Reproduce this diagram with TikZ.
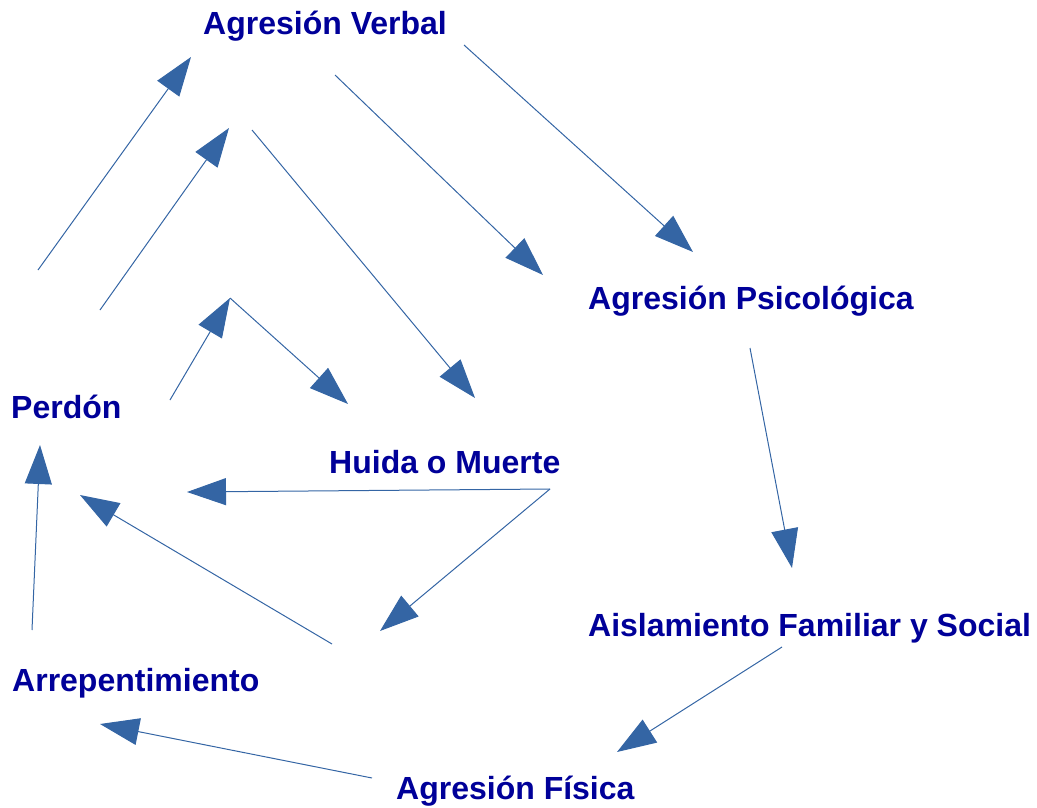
\documentclass[tikz,border=0pt]{standalone}
\usepackage{fontspec}
\setmainfont{Liberation Sans}
\usetikzlibrary{arrows.meta}
\definecolor{txtblue}{HTML}{000099}
\definecolor{arrblue}{HTML}{3465A4}
\begin{document}
\begin{tikzpicture}[x=1pt,y=-1pt,
  lbl/.style={anchor=base west,inner sep=0pt,text=txtblue,font=\fontsize{32}{38}\selectfont\bfseries},
  conn/.style={draw=arrblue,line width=1pt,-{Triangle[length=39pt,width=27pt,fill=arrblue]}},
  plain/.style={draw=arrblue,line width=1pt}]
\useasboundingbox (0,0) rectangle (1037,808);
% labels
\node[lbl] (verbal) at (203,35) {Agresión Verbal};
\node[lbl] (psico) at (588,309) {Agresión Psicológica};
\node[lbl] (perdon) at (11,418) {Perdón};
\node[lbl] (huida) at (329,473) {Huida o Muerte};
\node[lbl] (aisla) at (588,636) {Aislamiento Familiar y Social};
\node[lbl] (arrep) at (12,691) {Arrepentimiento};
\node[lbl] (fisica) at (396,799) {Agresión Física};
% endpoints
\coordinate (a1s) at (38,270);  \coordinate (a1e) at (191,57);
\coordinate (a2s) at (100,310); \coordinate (a2e) at (229,128);
\coordinate (a3s) at (252,130); \coordinate (a3e) at (475,398);
\coordinate (a4s) at (335,75);  \coordinate (a4e) at (543,275);
\coordinate (a5s) at (464,45);  \coordinate (a5e) at (693,252);
\coordinate (a6s) at (170,400); \coordinate (peak) at (230,298);
\coordinate (a7e) at (348,404);
\coordinate (hm) at (550,489);
\coordinate (a8e) at (187,492);
\coordinate (a9e) at (380,631);
\coordinate (a10s) at (332,644); \coordinate (a10e) at (80,495);
\coordinate (a11s) at (32,630); \coordinate (a11e) at (40,445);
\coordinate (a12s) at (750,348); \coordinate (a12e) at (792,568);
\coordinate (a13s) at (782,647); \coordinate (a13e) at (617,752);
\coordinate (a14s) at (372,778); \coordinate (a14e) at (100,724);
% connectors
\draw[conn] (a1s) -- (a1e);
\draw[conn] (a2s) -- (a2e);
\draw[conn] (a3s) -- (a3e);
\draw[conn] (a4s) -- (a4e);
\draw[conn] (a5s) -- (a5e);
\draw[conn] (a6s) -- (peak);
\draw[conn] (peak) -- (a7e);
\draw[conn] (hm) -- (a8e);
\draw[conn] (hm) -- (a9e);
\draw[conn] (a10s) -- (a10e);
\draw[conn] (a11s) -- (a11e);
\draw[conn] (a12s) -- (a12e);
\draw[conn] (a13s) -- (a13e);
\draw[conn] (a14s) -- (a14e);
\end{tikzpicture}
\end{document}
